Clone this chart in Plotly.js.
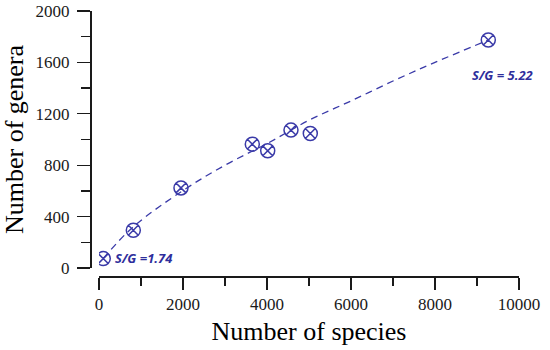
<!DOCTYPE html>
<html>
<head>
<meta charset="utf-8">
<script src="https://cdn.plot.ly/plotly-3.0.1.min.js"></script>
<style>
html,body{margin:0;padding:0;background:#fff;}
#chart{width:550px;height:350px;}
</style>
</head>
<body>
<div id="chart"></div>
<script>
// Observed points (species, genera)
var species = [102, 817, 1952, 3650, 4017, 4571, 5031, 9269];
var genera  = [73, 294, 623, 964, 912, 1073, 1047, 1774];

// Dashed fitted curve
var curveSpecies = [102, 800, 2000, 3000, 4000, 5000, 6000, 7000, 8000, 9269];
var curveGenera  = [74, 316, 603, 800, 968, 1150, 1300, 1455, 1600, 1774];

// Tick labels
var xTicks = [0, 2000, 4000, 6000, 8000, 10000];
var yTicks = [0, 400, 800, 1200, 1600, 2000];

var labels = ['S/G =1.74', 'S/G = 5.22'];

var blue = '#3a3aa8';
var axisColor = '#1a1a1a';
var serif = '"Liberation Serif", "Times New Roman", serif';

var traces = [
  {
    x: curveSpecies, y: curveGenera, type: 'scatter', mode: 'lines',
    line: {color: blue, width: 1.3, dash: '7px,5px', shape: 'spline'},
    hoverinfo: 'skip', showlegend: false
  },
  {
    x: species, y: genera, type: 'scatter', mode: 'markers',
    marker: {symbol: 'circle-x-open', size: 14, color: blue, line: {color: blue, width: 1.5}},
    showlegend: false
  }
];

var W = 550 - 90 - 31, H = 350 - 11 - 74;
var layout = {
  width: 550, height: 350,
  margin: {l: 90, r: 31, t: 11, b: 74, pad: 0},
  paper_bgcolor: '#fff', plot_bgcolor: '#fff',
  showlegend: false,
  xaxis: {
    domain: [9 / W, 1], range: [0, 10000], anchor: 'free', position: 0,
    showline: true, linecolor: axisColor, linewidth: 1.5,
    ticks: 'outside', ticklen: 12, tickwidth: 1.3, tickcolor: axisColor,
    tickvals: xTicks, ticktext: xTicks.map(String),
    minor: {dtick: 1000, tick0: 0, ticks: 'outside', ticklen: 8, tickwidth: 1.3, tickcolor: axisColor, showgrid: false},
    showgrid: false, zeroline: false,
    tickfont: {family: serif, size: 17, color: '#1a1a1a'},
    title: {text: 'Number of species', font: {family: serif, size: 26, color: '#000'}, standoff: 9}
  },
  yaxis: {
    domain: [8 / H, 1], range: [0, 2000], anchor: 'free', position: 0,
    showline: true, linecolor: axisColor, linewidth: 1.5,
    ticks: 'outside', ticklen: 13, tickwidth: 1.3, tickcolor: axisColor,
    ticklabelstandoff: 4,
    tickvals: yTicks, ticktext: yTicks.map(String),
    minor: {dtick: 200, tick0: 0, ticks: 'outside', ticklen: 9, tickwidth: 1.3, tickcolor: axisColor, showgrid: false},
    showgrid: false, zeroline: false,
    tickfont: {family: serif, size: 17, color: '#1a1a1a'},
    title: {text: 'Number of genera', font: {family: serif, size: 26, color: '#000'}, standoff: 8}
  },
  annotations: [
    {x: 333, y: 76, xref: 'x', yref: 'y', xanchor: 'left', yanchor: 'middle', showarrow: false,
     text: labels[0], font: {family: '"Open Sans", sans-serif', size: 13, color: '#2e2e9c', weight: 'bold', style: 'italic'}},
    {x: 8833, y: 1501, xref: 'x', yref: 'y', xanchor: 'left', yanchor: 'middle', showarrow: false,
     text: labels[1], font: {family: '"Open Sans", sans-serif', size: 13, color: '#2e2e9c', weight: 'bold', style: 'italic'}}
  ]
};

Plotly.newPlot('chart', traces, layout, {displayModeBar: false, staticPlot: true});
</script>
</body>
</html>
